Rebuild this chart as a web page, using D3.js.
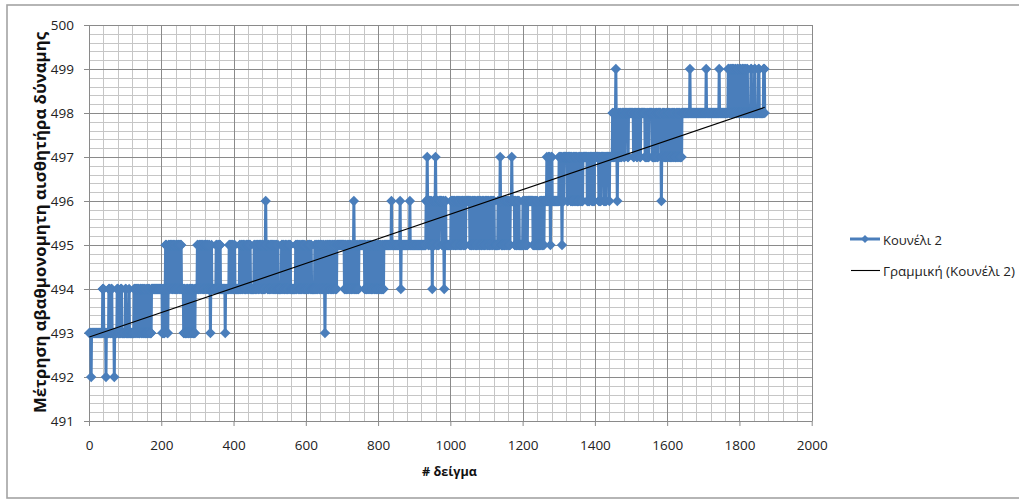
<!DOCTYPE html>
<html>
<head>
<meta charset="utf-8">
<script src="https://cdn.jsdelivr.net/npm/d3@7"></script>
<style>
  html, body { margin: 0; padding: 0; background: #fff; }
  svg { display: block; font-family: "Open Sans", "Noto Sans", sans-serif; }
</style>
</head>
<body>
<svg id="chart" width="1019" height="502"></svg>
<script>
// ---- axis settings and labels ----
const xDomain = [0, 2000];
const yDomain = [491, 500];
const xTicks = [0, 200, 400, 600, 800, 1000, 1200, 1400, 1600, 1800, 2000];
const yTicks = [491, 492, 493, 494, 495, 496, 497, 498, 499, 500];
const seriesName = "Κουνέλι 2";
const trendName = "Γραμμική (Κουνέλι 2)";
const xTitle = "# δείγμα";
const yTitle = "Μέτρηση αβαθμονομητη αισθητήρα δύναμης";

// ---- sensor readings, stored as runs of [reading, consecutive samples] ----
const runs0000 = [[493,5],[492,1],[493,31],[494,3],[493,6],[492,1],[493,7],[494,3],[493,4],[494,2],[493,6],[492,1],[493,7],[494,3],[493,7],[494,3],[493,10],[494,2],[493,8],[494,1],[493,13],
  [494,2],[493,2],[494,3],[493,1],[494,2],[493,2],[494,2],[493,3],[494,3],[493,2],[494,2],[493,2],[494,1],[493,2],
  [494,2],[493,4],[494,2],[493,3],[494,3],[493,5]];

const runs0172 = [[494,30],[493,2],[494,2],[493,3],[494,2],[495,3],[494,2],[493,2],[494,1],[495,2],
  [494,2],[495,3],[494,1],[495,2],[494,2],[495,3],[494,2],[495,2],[494,3],[495,2],[494,2],[495,3],[494,2],[495,2],[494,1],[495,2],
  [494,6],[493,2],
  [494,2],[493,3],[494,1],[493,2],[494,2],[493,3],[494,2],[493,2],[494,3],[493,2],[494,2],[493,3],[494,1],[493,2],
  [494,6]];

const runs0299 = [[495,2],[494,3],[495,2],[494,2],[495,3],[494,1],[495,2],[494,3],[495,2],[494,2],[495,3],[494,2],[495,2],[494,3],[495,2],[494,2],
  [493,1],
  [494,2],[495,1],[494,1],
  [494,9],
  [494,2],[495,2],[494,3],[495,2],[494,2],[495,3],
  [494,13],[493,1],[494,10],
  [495,2],[494,2],[495,3],[494,2],[495,2],[494,3],[495,2],[494,1],
  [494,10],
  [494,2],[495,2],[494,3],[495,2],[494,2],[495,3],[494,2],[495,1],[494,3],[495,2],[494,2],[495,3],[494,2],[495,3],
  [494,10],
  [495,2],[494,3],[495,2],[494,2],[495,3],[494,2],[495,2],[494,1],[495,3],[494,2],[495,2],[494,3],[495,2],[494,2],
  [495,1],[496,1],[495,4],
  [494,2],[495,2],[494,3],[495,2],[494,2],[495,3],[494,1],[495,2],[494,3],[495,2],[494,2],[495,2],[494,3],[495,1],[494,1],
  [494,6],
  [494,2],[495,3],[494,2],[495,2],[494,3],[495,2],[494,2],[495,1],[494,3],[495,2],[494,2],[495,3],
  [494,14],
  [495,2],[494,2],[495,3],[494,2],[495,2],[494,3],[495,1],[494,2],[495,3],[494,2],[495,2],[494,2],[495,1],
  [494,6],
  [495,2],[494,2],[495,3],[494,2],[495,2],[494,2],
  [494,5],
  [494,2],[495,2],[494,3],[495,2],[494,2],[495,3],[494,2],[495,3]];

const runs0641 = [[494,2],[495,2],[494,3],[495,2],[494,2],
  [493,1],
  [494,1],[495,2],[494,3],[495,2],[494,2],[495,3],[494,2],[495,2],[494,3],[495,2],[494,2],[495,3],[494,2],[495,1],[494,2],
  [495,21],
  [494,2],[495,2],[494,3],[495,2],[494,2],[495,3],[494,2],[495,2],[494,3],[495,2],[494,2],[495,1],[496,1],[495,1],[494,3],[495,2],[494,2],[495,2],[494,3],
  [495,16],
  [494,2],[495,2],[494,3],[495,2],[494,2],[495,3],[494,2],[495,2],[494,3],[495,1],[494,2],[495,3],[494,2],[495,2],[494,3],[495,2],[494,2],[495,3],[494,2],[495,2],[494,3],[495,2],[494,3],
  [495,21],[496,1],[495,23],[496,1],[495,1],[494,1],[495,24],[496,1],[495,42]];

const runs0930 = [[495,2],[496,3],[497,1],[496,2],[495,2],[496,3],[495,2],[496,2],[495,2],[494,1],[495,2],[496,3],[495,2],[496,1],[497,1],[496,2],[495,2],[496,2],[495,3],[496,8],[495,3],[496,2],[495,1],[494,1],[495,2],[496,2],[495,14]];

const runs1001 = [[496,2],[495,2],[496,3],[495,2],[496,2],[495,3],[496,2],[495,2],[496,3],[495,1],[496,2],[495,3],[496,2],[495,2],[496,3],[495,2],[496,2],[495,3],
  [496,11],
  [495,2],[496,2],[495,3],[496,2],[495,2],[496,3],[495,2],[496,1],[495,3],[496,2],[495,2],[496,3],[495,2],[496,2],[495,3],[496,2],[495,2],[496,2],[495,3],[496,2],[495,1],[496,3],[495,2],[496,2],[495,3],[496,2],[495,2],[496,3],[495,2],[496,3],
  [495,10],
  [496,2],[495,2],[496,2],[497,1],[496,2],
  [495,6],
  [496,2],[495,3],[496,2],[495,2],[496,3],[495,2],[496,2],[495,3],[496,2],
  [496,2],[497,1],[496,7],
  [495,2],[496,2],[495,3],[496,2],[495,2],[496,2],
  [495,10],
  [496,2],[495,2],[496,3],[495,2],[496,2],[495,2],
  [496,15],
  [495,2],[496,2],[495,3],[496,2],[495,2],[496,2],
  [495,6],
  [496,2],[495,2],[496,3],[495,2],[496,2],[495,1],
  [496,7],[497,1],[496,3]];

const runs1270 = [[496,1],[497,2],[496,1],[497,1],[496,1],[495,1],[496,2],[497,2],[496,19],
  [497,2],[496,2],[497,3],[496,1],[495,1],[496,2],[497,2],[496,1],
  [497,9],[496,2],[497,7],
  [496,2],[497,2],[496,3],[497,2],[496,2],[497,3],[496,2],[497,2],[496,3],[497,1],[496,2],[497,3],[496,2],[497,2],[496,3],
  [497,12],
  [496,2],[497,2],[496,3],[497,6],[496,2],[497,3],[496,2],[497,12],[496,2],[497,2],[496,2],[497,8],[496,2],[497,3],[496,2],[497,8],[496,1],[497,8]];

const runs1448 = [[498,2],[497,2],[498,2],[497,2],[498,1],[499,1],[498,2],[497,1],[496,1],[497,2],[498,2],[497,2],[498,3],
  [497,3],[498,6],[497,2],[498,8],[497,2],[498,14],[497,2],[498,7],[497,2],[498,7],[497,2],[498,12],
  [497,2],[498,2],[497,3],[498,2],[497,2],
  [498,9],
  [497,2],[498,2],[497,3],[498,2],[497,2],[498,3],[497,2],[498,8],
  [497,1],[496,1],[497,2],[498,4],
  [497,2],[498,2],[497,3],[498,2],[497,2],[498,3],[497,2],[498,2],[497,3],[498,1],[497,2],[498,3],[497,2],[498,2],[497,3],[498,2],[497,2],[498,3],[497,2],[498,2],[497,3],[498,1],[497,1]];

const runs1640 = [[498,22],[499,1],[498,44],[499,1],[498,35],[499,1],[498,24],
  [499,3],[498,4],[499,2],[498,3],[499,3],[498,4],[499,2],[498,4],[499,3],[498,5],[499,2],[498,4],[499,3],[498,4],[499,2],[498,4],
  [499,2],[498,9],[499,2],[498,8],[499,2],[498,9],[499,2],[498,12],[499,3],[498,1]];

const allRuns = [runs0000, runs0172, runs0299, runs0641, runs0930, runs1001, runs1270, runs1448, runs1640];

// expand runs into one point per sample (sample numbers start at 1)
const readings = allRuns.flat().flatMap(([v, n]) => Array(n).fill(v));
const points = readings.map((v, i) => ({ x: i + 1, v }));

// ---- colours ----
const blue = "#4a7ebb";
const majorGrid = "#8a8a8a";
const minorGrid = "#c6c6c6";

// ---- layout ----
const svg = d3.select("#chart");
const plot = { left: 89, right: 811.7, top: 25, bottom: 421 };

const x = d3.scaleLinear().domain(xDomain).range([plot.left, plot.right]);
const y = d3.scaleLinear().domain(yDomain).range([plot.bottom, plot.top]);

// chart frame
svg.append("rect")
  .attr("x", 7).attr("y", 5)
  .attr("width", 1020).attr("height", 493)
  .attr("fill", "#fff")
  .attr("stroke", "#a3a3a3").attr("stroke-width", 1.6);

// gridlines
const grid = svg.append("g").attr("shape-rendering", "crispEdges");
const minorX = d3.range(xDomain[0], xDomain[1] + 1, 40).filter(v => v % 200 !== 0);
const minorY = d3.range(0, 46).map(k => yDomain[0] + k * 0.2).filter((v, k) => k % 5 !== 0);

grid.selectAll("line.mx").data(minorX).join("line")
  .attr("x1", d => Math.round(x(d)) + 0.5).attr("x2", d => Math.round(x(d)) + 0.5)
  .attr("y1", plot.top).attr("y2", plot.bottom)
  .attr("stroke", minorGrid).attr("stroke-width", 1);
grid.selectAll("line.my").data(minorY).join("line")
  .attr("x1", plot.left).attr("x2", plot.right)
  .attr("y1", d => Math.round(y(d)) + 0.5).attr("y2", d => Math.round(y(d)) + 0.5)
  .attr("stroke", minorGrid).attr("stroke-width", 1);
grid.selectAll("line.Mx").data(xTicks).join("line")
  .attr("x1", d => Math.round(x(d)) + 0.5).attr("x2", d => Math.round(x(d)) + 0.5)
  .attr("y1", plot.top).attr("y2", plot.bottom)
  .attr("stroke", majorGrid).attr("stroke-width", 1);
grid.selectAll("line.My").data(yTicks).join("line")
  .attr("x1", plot.left).attr("x2", plot.right)
  .attr("y1", d => Math.round(y(d)) + 0.5).attr("y2", d => Math.round(y(d)) + 0.5)
  .attr("stroke", majorGrid).attr("stroke-width", 1);

// axes
const yAxis = svg.append("g")
  .attr("transform", `translate(${plot.left},0)`)
  .call(d3.axisLeft(y).tickValues(yTicks).tickFormat(d3.format("d")).tickSize(5).tickSizeOuter(0).tickPadding(10));
const xAxis = svg.append("g")
  .attr("transform", `translate(0,${plot.bottom})`)
  .call(d3.axisBottom(x).tickValues(xTicks).tickFormat(d3.format("d")).tickSize(5).tickSizeOuter(0).tickPadding(14));

[yAxis, xAxis].forEach(g => {
  g.select(".domain").attr("stroke", majorGrid);
  g.selectAll(".tick line").attr("stroke", majorGrid);
  g.selectAll(".tick text")
    .attr("fill", "#222")
    .attr("font-size", 13.5)
    .attr("font-family", "'Open Sans', 'Noto Sans', sans-serif");
});

// series line and diamond markers
const line = d3.line().x(d => x(d.x)).y(d => y(d.v));
svg.append("path")
  .datum(points)
  .attr("d", line)
  .attr("fill", "none")
  .attr("stroke", blue)
  .attr("stroke-width", 3)
  .attr("stroke-linejoin", "round");

const diamond = r => `M0,${-r}L${r},0L0,${r}L${-r},0Z`;
svg.append("g").selectAll("path").data(points).join("path")
  .attr("d", diamond(5.2))
  .attr("transform", d => `translate(${x(d.x)},${y(d.v)})`)
  .attr("fill", blue);

// linear least-squares trend of the readings
const mx = d3.mean(points, d => d.x);
const my = d3.mean(points, d => d.v);
const slope = d3.sum(points, d => (d.x - mx) * (d.v - my)) / d3.sum(points, d => (d.x - mx) ** 2);
const intercept = my - slope * mx;
const xFirst = points[0].x, xLast = points[points.length - 1].x;
svg.append("line")
  .attr("x1", x(xFirst)).attr("y1", y(intercept + slope * xFirst))
  .attr("x2", x(xLast)).attr("y2", y(intercept + slope * xLast))
  .attr("stroke", "#000").attr("stroke-width", 1.1);

// scale a text element's font so that it spans a given width
function fitWidth(sel, width) {
  const w = sel.node().getComputedTextLength();
  const fs = parseFloat(sel.attr("font-size"));
  sel.attr("font-size", (fs * width / w).toFixed(2));
  return sel;
}

// legend
const legend = svg.append("g");
legend.append("line")
  .attr("x1", 850).attr("x2", 880).attr("y1", 239).attr("y2", 239)
  .attr("stroke", blue).attr("stroke-width", 3);
legend.append("path")
  .attr("d", diamond(4))
  .attr("transform", "translate(865,239)")
  .attr("fill", blue);
const leg1 = legend.append("text")
  .attr("x", 883).attr("y", 244.5)
  .attr("font-size", 13).attr("fill", "#222")
  .text(seriesName);
fitWidth(leg1, 59);

legend.append("line")
  .attr("x1", 851).attr("x2", 880).attr("y1", 270.5).attr("y2", 270.5)
  .attr("stroke", "#000").attr("stroke-width", 1.1);
const leg2 = legend.append("text")
  .attr("x", 883).attr("y", 276)
  .attr("font-size", 13).attr("fill", "#222")
  .text(trendName);
fitWidth(leg2, 132);

// axis titles
const xt = svg.append("text")
  .attr("x", 449.5).attr("y", 476)
  .attr("text-anchor", "middle")
  .attr("font-size", 14).attr("font-weight", "bold").attr("fill", "#111")
  .text(xTitle);
fitWidth(xt, 55);

const yt = svg.append("text")
  .attr("transform", "translate(46,222.5) rotate(-90)")
  .attr("text-anchor", "middle")
  .attr("font-size", 15).attr("font-weight", "bold").attr("fill", "#111")
  .text(yTitle);
fitWidth(yt, 381);
</script>
</body>
</html>
